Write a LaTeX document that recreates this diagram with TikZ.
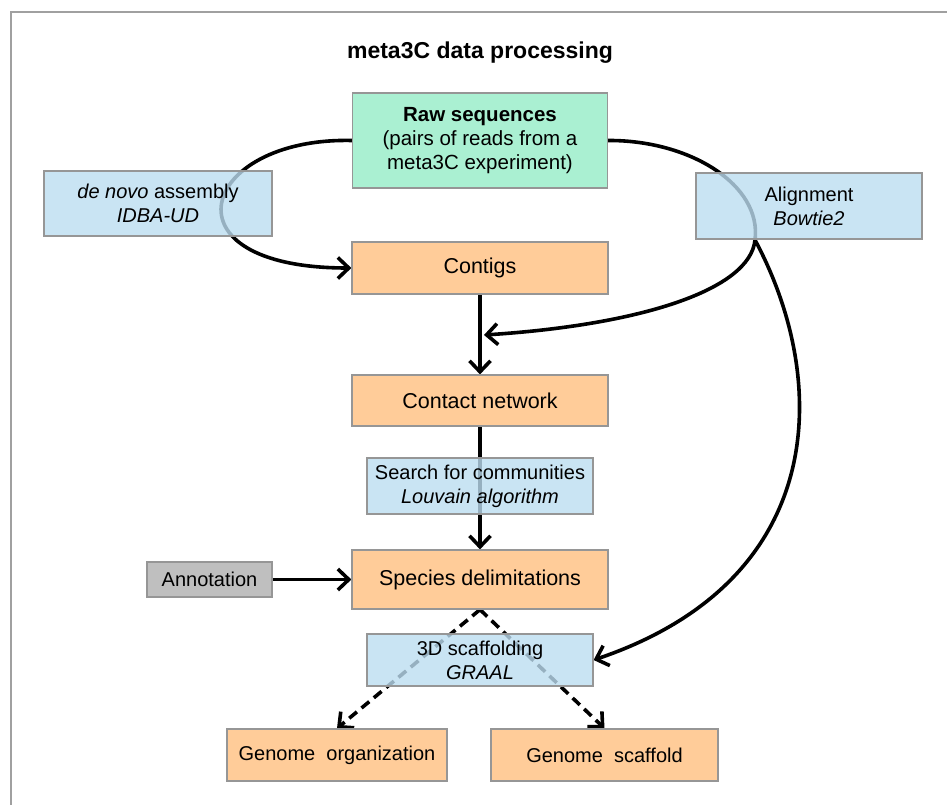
\documentclass[tikz,border=0pt]{standalone}
\usepackage{fontspec}
\setmainfont{Liberation Sans}
\usetikzlibrary{arrows.meta,backgrounds}
\definecolor{boxgreen}{RGB}{170,240,210}
\definecolor{boxorange}{RGB}{255,204,153}
\definecolor{boxblue}{RGB}{188,221,240}
\definecolor{boxgray}{RGB}{191,191,191}
\definecolor{edgegray}{RGB}{150,150,150}
\definecolor{framegray}{RGB}{160,160,160}
\tikzset{
  basebox/.style={draw=edgegray, line width=1.2pt, rectangle, inner sep=0pt, align=center, text=black},
  mainbox/.style={basebox, fill=boxorange, font=\fontsize{21.5}{26}\selectfont},
  rawbox/.style={basebox, fill=boxgreen, font=\fontsize{20.5}{24}\selectfont},
  toolbox/.style={basebox, fill=boxblue, fill opacity=0.8, text opacity=1, draw opacity=1, font=\fontsize{20}{24}\selectfont},
  annbox/.style={basebox, fill=boxgray, font=\fontsize{20}{24}\selectfont},
  outbox/.style={basebox, fill=boxorange, font=\fontsize{20}{24}\selectfont},
  flow/.style={line width=3.6pt, -{Straight Barb[length=11pt,width=21pt]}},
  flowline/.style={line width=3.6pt},
  dflow/.style={flow, dash pattern=on 10pt off 6pt},
}
\begin{document}
\begin{tikzpicture}[x=1pt,y=-1pt]
\useasboundingbox (0,0) rectangle (947,805);
\draw[framegray, line width=1.5pt] (11,805) -- (11,12) -- (947,12);

\node[font=\fontsize{23}{28}\selectfont\bfseries] (title) at (480,53) {meta3C data processing};

\node[rawbox, minimum width=255pt, minimum height=95pt] (raw) at (480,140.5)
  {\textbf{Raw sequences}\\(pairs of reads from a\\meta3C experiment)};
\node[toolbox, minimum width=228pt, minimum height=65pt] (denovo) at (158,203.5)
  {\textit{de novo} assembly\\\textit{IDBA-UD}};
\node[toolbox, minimum width=226pt, minimum height=66pt] (align) at (809,206)
  {Alignment\\\textit{Bowtie2}};
\node[mainbox, minimum width=256pt, minimum height=52pt] (contigs) at (480,268) {Contigs};
\node[mainbox, minimum width=256pt, minimum height=51pt] (contact) at (480,400.5) {Contact network};
\node[toolbox, minimum width=226pt, minimum height=56pt] (search) at (480,486)
  {Search for communities\\\textit{Louvain algorithm}};
\node[annbox, minimum width=125pt, minimum height=35pt] (annot) at (209.5,579.5) {Annotation};
\node[mainbox, minimum width=256pt, minimum height=59pt] (species) at (480,579.5) {Species delimitations};
\node[toolbox, minimum width=226pt, minimum height=52pt] (scaf) at (480,660)
  {3D scaffolding\\\textit{GRAAL}};
\node[outbox, minimum width=220pt, minimum height=52pt] (org) at (337,755) {Genome\ \ organization};
\node[outbox, minimum width=227pt, minimum height=52pt] (gscaf) at (604.5,755) {Genome\ \ scaffold};

\coordinate (br) at (755,240);
\coordinate (join) at (484,335);

\begin{scope}[on background layer]
  \draw[flow] (raw.west) .. controls (200,137) and (158,268) .. (contigs.west);
  \draw[flowline] (raw.east) .. controls (690,140) and (762,185) .. (br);
  \draw[flow] (br) .. controls (750,290) and (640,325) .. (join);
  \draw[flow] (br) .. controls (830,380) and (830,580) .. (scaf.east);
  \draw[flow] (contigs.south) -- (contact.north);
  \draw[flow] (contact.south) -- (species.north);
  \draw[flow] (annot.east) -- (species.west);
  \draw[dflow] (species.south) -- (org.north);
  \draw[dflow] (species.south) -- (gscaf.north);
\end{scope}
\end{tikzpicture}
\end{document}
